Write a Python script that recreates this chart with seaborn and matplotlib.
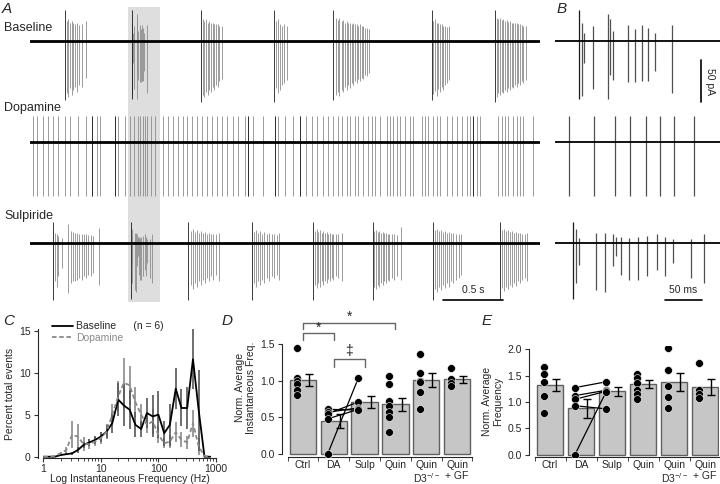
import numpy as np
import pandas as pd
import seaborn as sns
import matplotlib
matplotlib.use("Agg")
import matplotlib.pyplot as plt
from matplotlib.lines import Line2D
from matplotlib.ticker import FixedLocator, NullFormatter, LogLocator

sns.set_style("ticks")
plt.rcParams['font.family'] = ['Liberation Sans', 'DejaVu Sans']
plt.rcParams['mathtext.default'] = 'regular'
plt.rcParams['font.size'] = 7

# ---------------- A / B : spike traces (time in s, amplitudes in pA) ----------------
base_onsets = [0.542, 1.100, 1.675, 2.283, 2.778, 3.597, 4.125]
base_offsets = [
    [0, 14, 28, 42, 56, 69, 83, 97, 117, 139, 175],
    [0, 3, 6, 19, 38, 42, 46, 65, 75, 85, 93, 102, 125],
    [0, 14, 28, 42, 56, 69, 83, 97, 111, 125, 139, 153, 172],
    [0, 17, 33, 50, 67, 83, 111],
    [0, 22, 37, 50, 70, 83, 97, 112, 125, 139, 153, 167, 181, 195, 208, 222, 237, 250, 264, 278, 300],
    [0, 13, 28, 42, 55, 69, 83, 97, 111, 125, 144],
    [0, 14, 28, 42, 56, 69, 83, 97, 111, 125, 139, 153, 167, 181, 194, 208, 222, 236, 256],
]
base_up = [
    [37, 24, 26, 22, 24, 21, 20, 22, 19, 20, 24],
    [37, 22, 10, 18, 32, 26, 12, 19, 14, 19, 16, 10, 19],
    [37, 26, 24, 26, 22, 24, 22, 22, 20, 20, 20, 18, 18],
    [37, 24, 26, 20, 18, 20, 18],
    [37, 28, 25, 27, 24, 25, 22, 24, 22, 22, 20, 22, 20, 20, 18, 20, 18, 18, 16, 16, 15],
    [37, 24, 26, 22, 22, 20, 20, 18, 18, 17, 18],
    [37, 28, 26, 27, 25, 26, 24, 25, 23, 24, 22, 22, 21, 21, 20, 20, 19, 18, 18],
]
base_down = [
    [70, 62, 66, 56, 64, 58, 55, 60, 52, 54, 44],
    [69, 65, 26, 57, 69, 40, 46, 49, 49, 47, 47, 36, 62],
    [72, 64, 66, 60, 64, 58, 60, 55, 58, 52, 55, 48, 45],
    [72, 56, 62, 58, 52, 50, 46],
    [70, 64, 60, 65, 58, 60, 55, 58, 52, 56, 50, 52, 48, 50, 45, 48, 44, 45, 40, 42, 38],
    [70, 63, 59, 65, 57, 61, 54, 58, 52, 50, 46],
    [72, 66, 62, 64, 60, 62, 58, 60, 56, 58, 54, 56, 52, 54, 50, 52, 48, 50, 46],
]

da_times = [0.275, 0.308, 0.358, 0.400, 0.442, 0.483, 0.542, 0.583, 0.650, 0.717,
            0.767, 0.808, 0.833, 0.958, 0.983, 1.042, 1.086, 1.120, 1.148, 1.169,
            1.190, 1.209, 1.228, 1.255, 1.292, 1.358, 1.400, 1.442, 1.483, 1.525,
            1.558, 1.600, 1.642, 1.683, 1.725, 1.767, 1.808, 1.850, 1.892, 1.942,
            1.983, 2.042, 2.067, 2.108, 2.192, 2.292, 2.317, 2.375, 2.442, 2.500,
            2.550, 2.600, 2.642, 2.692, 2.733, 2.775, 2.817, 2.850, 2.892, 2.917,
            2.958, 2.983, 3.025, 3.067, 3.100, 3.125, 3.167, 3.225, 3.250, 3.275,
            3.308, 3.333, 3.375, 3.417, 3.442, 3.517, 3.542, 3.567, 3.608, 3.642,
            3.667, 3.725, 3.767, 3.808, 3.850, 3.892, 3.917, 3.942, 3.975, 4.000,
            4.150, 4.183, 4.208, 4.233, 4.275, 4.308, 4.333, 4.358, 4.442]
da_dark = [0.767, 0.958, 2.067, 2.292, 2.500, 3.942]
da_up = 31
da_down = 64

sulp_onsets = [0.444, 1.092, 1.569, 2.103, 2.606, 3.106, 3.611, 4.167]
sulp_offsets = [
    [0, 14, 28, 42, 70, 125, 145, 162, 181, 200, 217, 237, 256, 272, 292, 312, 333, 383],
    [0, 4, 8, 30, 42, 53, 58, 64, 75, 87, 99, 113, 123, 134, 159, 176],
    [0, 20, 37, 53, 70, 87, 103, 120, 137, 153, 170, 187, 208, 231, 258],
    [0, 17, 33, 50, 67, 83, 100, 120, 139, 162, 181, 203, 225],
    [0, 19, 33, 47, 61, 75, 89, 103, 117, 130, 144, 158, 172, 192, 214, 242],
    [0, 13, 28, 42, 55, 69, 83, 97, 111, 125, 139, 158, 178, 200, 233],
    [0, 17, 33, 50, 67, 83, 100, 117, 133, 150, 167, 189, 211, 233],
    [0, 17, 33, 50, 67, 83, 100, 117, 133, 150, 167, 183, 206, 228],
]
sulp_up = [
    [25, 12, 10, 8, 6, 22, 14, 13, 12, 12, 11, 11, 10, 10, 9, 9, 8, 18],
    [25, 16, 6, 12, 12, 10, 7, 7, 6, 7, 8, 10, 7, 5, 5, 10],
    [25, 14, 16, 13, 15, 12, 14, 12, 13, 11, 12, 10, 11, 10, 12],
    [25, 13, 15, 12, 14, 11, 13, 10, 12, 10, 11, 9, 12],
    [25, 14, 16, 13, 15, 12, 14, 12, 13, 11, 12, 10, 11, 10, 10, 12],
    [25, 14, 15, 13, 14, 12, 13, 12, 12, 11, 11, 10, 10, 9, 19],
    [25, 15, 16, 14, 15, 13, 14, 12, 13, 12, 12, 11, 10, 10],
    [25, 15, 16, 14, 15, 13, 14, 12, 13, 12, 12, 11, 10, 12],
]
sulp_down = [
    [68, 45, 52, 40, 30, 60, 48, 46, 45, 44, 42, 44, 40, 42, 38, 40, 36, 50],
    [67, 48, 26, 56, 58, 28, 16, 38, 44, 44, 40, 32, 40, 24, 42, 48],
    [68, 50, 55, 48, 52, 46, 50, 44, 48, 42, 46, 40, 44, 38, 45],
    [68, 48, 52, 46, 50, 44, 48, 42, 46, 40, 42, 38, 44],
    [68, 50, 54, 48, 52, 46, 50, 45, 48, 43, 46, 42, 44, 40, 42, 46],
    [68, 52, 55, 50, 53, 48, 50, 46, 48, 44, 46, 42, 44, 40, 44],
    [68, 55, 58, 52, 56, 50, 54, 48, 52, 46, 48, 44, 42, 38],
    [68, 54, 57, 52, 55, 50, 53, 48, 51, 46, 48, 44, 42, 46],
]

trace_names = ["Baseline", "Dopamine", "Sulpiride"]
trace_offsets = [0, -120, -240]
t_start, t_end = 0.25, 4.5
win_start, win_end = 1.067, 1.290      # window expanded in B
shade = (1.067, 1.333)

# ---------------- C : instantaneous frequency histogram ----------------
freqs = [1, 1.26, 1.58, 2, 2.51, 3.16, 3.98, 5.01, 6.31, 7.94,
         10, 12.6, 15.8, 20, 25.1, 31.6, 39.8, 50.1, 63.1, 79.4,
         100, 126, 158, 200, 251, 316, 398, 501, 631, 794]
base_pct = [0, 0, 0, 0.2, 0.3, 0.4, 0.8, 1.4, 1.7, 2.0,
            2.4, 3.0, 4.0, 6.8, 6.1, 5.6, 3.8, 3.3, 5.2, 4.8,
            5.0, 2.8, 3.8, 8.1, 5.8, 5.8, 11.6, 5.5, 0, 0]
base_sem = [0, 0, 0, 0.1, 0.1, 0.2, 0.3, 0.4, 0.4, 0.5,
            0.6, 0.8, 1.2, 2.0, 2.5, 2.3, 1.5, 0.9, 1.8, 2.5,
            2.8, 1.5, 2.5, 2.4, 2.2, 2.5, 3.6, 4.8, 0, 0]
da_pct = [0, 0, 0.1, 0.4, 0.8, 2.6, 2.4, 1.5, 1.5, 1.8,
          2.2, 3.0, 5.0, 7.2, 8.8, 8.5, 6.5, 5.0, 3.8, 4.2,
          2.6, 1.6, 1.8, 2.9, 2.0, 1.7, 4.0, 1.2, 0.1, 0]
da_sem = [0, 0, 0, 0.2, 0.4, 1.6, 1.5, 0.8, 0.6, 0.5,
          0.7, 0.9, 1.3, 1.8, 3.0, 2.3, 1.8, 1.3, 1.0, 1.5,
          1.0, 0.6, 0.8, 1.2, 0.9, 0.8, 1.6, 1.0, 0, 0]

# ---------------- D / E : normalised bar charts ----------------
groups = ["Ctrl", "DA", "Sulp", "Quin", "Quin\nD3$^{-/-}$", "Quin\n+ GF"]
d_mean = [1.01, 0.45, 0.71, 0.68, 1.01, 1.02]
d_sem = [0.08, 0.09, 0.08, 0.09, 0.10, 0.05]
d_pts = [[1.45, 1.04, 1.00, 0.95, 0.87, 0.80],
         [0.61, 0.57, 0.55, 0.48, 0.00],
         [1.04, 0.71, 0.63, 0.61, 0.60],
         [1.07, 0.95, 0.73, 0.65, 0.58, 0.50, 0.30],
         [1.36, 1.10, 1.00, 0.98, 0.85, 0.61],
         [1.17, 1.03, 0.97, 0.93]]
d_pair_da = [0.61, 0.57, 0.55, 0.48, 0.00]
d_pair_sulp = [0.60, 0.63, 0.71, 0.61, 1.04]

e_mean = [1.32, 0.88, 1.20, 1.34, 1.37, 1.29]
e_sem = [0.12, 0.18, 0.09, 0.07, 0.17, 0.15]
e_pts = [[1.67, 1.52, 1.37, 1.12, 0.80],
         [1.27, 1.12, 1.05, 0.93, 0.00],
         [1.38, 1.22, 1.20, 1.18, 0.87],
         [1.52, 1.45, 1.35, 1.22, 1.15, 1.05],
         [2.02, 1.60, 1.30, 1.10, 0.88],
         [1.74, 1.22, 1.15, 1.08]]
e_pair_da = [1.27, 1.12, 1.05, 0.93, 0.00]
e_pair_sulp = [1.38, 1.22, 1.20, 0.87, 1.18]

# ---------------- figure ----------------
W, H = 720, 484
fig = plt.figure(figsize=(7.2, 4.84), dpi=100)


def fx(px):
    return px / W


def fy(py):
    return 1 - py / H


def draw_bursts(ax, y0, onsets, offsets, ups, downs, lw, col):
    for t0, offs, up, dn in zip(onsets, offsets, ups, downs):
        t = t0 + np.array(offs) / 1000.0
        up = np.array(up)
        dn = np.array(dn)
        ax.vlines(t[1:], y0 - dn[1:], y0 + up[1:], color=col, lw=lw, zorder=2)
        ax.vlines(t[:1], y0 - dn[:1], y0 + up[:1], color='#1a1a1a', lw=lw, zorder=3)


def draw_traces(ax, spike_lw, base_lw, col):
    y_b, y_d, y_s = trace_offsets
    draw_bursts(ax, y_b, base_onsets, base_offsets, base_up, base_down, spike_lw, col)
    draw_bursts(ax, y_s, sulp_onsets, sulp_offsets, sulp_up, sulp_down, spike_lw, col)
    ax.vlines(da_times, y_d - da_down, y_d + da_up, color=col, lw=spike_lw, zorder=2)
    ax.vlines(da_dark, y_d - da_down, y_d + da_up, color='#1a1a1a', lw=spike_lw, zorder=3)
    for y0 in trace_offsets:
        ax.axhline(y0, color='black', lw=base_lw, zorder=4)


# A
axA = fig.add_axes([fx(30), fy(305), fx(510), 300 / H])
axA.axvspan(shade[0], shade[1], ymin=0.01, ymax=0.993, color='#dedede', lw=0, zorder=0)
draw_traces(axA, 0.6, 2.0, '#8c8c8c')
axA.set_xlim(t_start, t_end)
axA.set_ylim(-314, 43)
axA.plot([3.692, 4.192], [-308, -308], color='black', lw=1.2, clip_on=False)
axA.text(3.942, -302, "0.5 s", ha='center', va='bottom', fontsize=7.5)
axA.axis('off')

# B
axB = fig.add_axes([fx(555), fy(305), fx(165), 300 / H])
draw_traces(axB, 0.9, 1.3, '#505050')
axB.set_xlim(win_start, win_end)
axB.set_ylim(-314, 43)
axB.plot([1.264, 1.264], [-22.5, -72.5], color='black', lw=1.2, clip_on=False)
axB.text(1.277, -47.5, "50 pA", rotation=270, ha='center', va='center', fontsize=7.5)
axB.plot([1.2156, 1.2656], [-308, -308], color='black', lw=1.2, clip_on=False)
axB.text(1.2406, -302, "50 ms", ha='center', va='bottom', fontsize=7.5)
axB.axis('off')

for name, py in zip(trace_names, [28, 108, 216]):
    fig.text(fx(4), fy(py), name, fontsize=9, va='center', ha='left')

# C
axC = fig.add_axes([fx(43.3), fy(458.4), fx(172.7), 129.4 / H])
dfc = pd.DataFrame({'freq': freqs * 2,
                    'pct': base_pct + da_pct,
                    'cond': ['Baseline'] * len(freqs) + ['Dopamine'] * len(freqs)})
axC.errorbar(freqs, da_pct, yerr=da_sem, fmt='none', ecolor='#8a8a8a', elinewidth=1.2, zorder=2)
axC.errorbar(freqs, base_pct, yerr=base_sem, fmt='none', ecolor='#555555', elinewidth=1.2, zorder=2)
sns.lineplot(data=dfc, x='freq', y='pct', hue='cond', style='cond',
             palette={'Baseline': 'black', 'Dopamine': '#8a8a8a'},
             dashes={'Baseline': '', 'Dopamine': (2.5, 1.5)},
             linewidth=1.3, legend=False, ax=axC, zorder=3)
axC.set_xscale('log')
axC.set_xlim(1, 1000)
axC.set_ylim(-0.2, 15.2)
axC.xaxis.set_major_locator(FixedLocator([1, 10, 100, 1000]))
axC.set_xticklabels(['1', '10', '100', '1000'])
axC.xaxis.set_minor_locator(LogLocator(base=10, subs=np.arange(2, 10)))
axC.xaxis.set_minor_formatter(NullFormatter())
axC.set_yticks([0, 5, 10, 15])
axC.set_xlabel("Log Instantaneous Frequency (Hz)", fontsize=7.5, labelpad=0)
axC.set_ylabel("Percent total events", fontsize=7.5, labelpad=3)
handles = [Line2D([], [], color='black', lw=1.3),
           Line2D([], [], color='#8a8a8a', lw=1.3, dashes=(2.5, 1.5))]
leg = axC.legend(handles, ["Baseline      (n = 6)", "Dopamine"], loc='upper left',
                 bbox_to_anchor=(0.02, 1.1), frameon=False, fontsize=7.5,
                 handlelength=2.0, handletextpad=0.3, labelspacing=0.15, borderpad=0)
leg.get_texts()[1].set_color('#8a8a8a')


def bar_panel(ax, means, sems, pts, pair_da, pair_sulp, ytop, yticks):
    pos = np.arange(len(groups))
    sns.barplot(x=list(pos), y=means, color='#c6c6c6', saturation=1, edgecolor='#606060',
                linewidth=1.0, width=0.86, errorbar=None, ax=ax, zorder=1)
    ax.errorbar(pos + 0.2, means, yerr=sems, fmt='none', ecolor='black',
                elinewidth=1.0, capsize=3, capthick=1.0, zorder=3)
    for a, b in zip(pair_da, pair_sulp):
        ax.plot([1 - 0.2, 2 - 0.2], [a, b], color='black', lw=0.9, zorder=4)
    for i, p in enumerate(pts):
        ax.scatter(np.full(len(p), i - 0.2), p, s=32, color='black',
                   edgecolors='white', linewidths=0.4, zorder=5)
    ax.set_xlim(-0.5, 5.5)
    ax.set_ylim(-0.04, ytop)
    ax.set_yticks(yticks)
    ax.set_yticklabels([f"{v:.1f}" for v in yticks])
    ax.spines['left'].set_bounds(0, yticks[-1])
    ax.spines['left'].set_position(('outward', 4))
    ax.spines['right'].set_visible(False)
    ax.spines['top'].set_visible(False)
    ax.set_xticks(pos)
    ax.set_xticklabels(groups, fontsize=7.5, linespacing=1.1)
    ax.tick_params(axis='x', which='major', length=0, pad=2)
    ax.set_xticks(np.arange(-0.5, 6, 1.0), minor=True)
    ax.tick_params(axis='x', which='minor', length=3)
    ax.set_xlabel("")


# D
axD = fig.add_axes([fx(287.6), fy(457), fx(184.8), 138.6 / H])
bar_panel(axD, d_mean, d_sem, d_pts, d_pair_da, d_pair_sulp, 1.85, [0.0, 0.5, 1.0, 1.5])
axD.set_ylabel("Norm. Average\nInstantaneous Freq.", fontsize=7.5, labelpad=3)


def bracket(ax, x1, x2, y, drop, label, ty):
    ax.plot([x1, x1, x2, x2], [y - drop, y, y, y - drop], color='#666666', lw=1.0, clip_on=False)
    ax.text((x1 + x2) / 2, ty, label, ha='center', va='center', fontsize=10)


bracket(axD, 0, 1, 1.65, 0.09, "*", 1.72)
bracket(axD, 0, 3, 1.79, 0.09, "*", 1.87)
bracket(axD, 1, 2, 1.30, 0.11, "\u2021", 1.41)

# E
axE = fig.add_axes([fx(534.5), fy(457), fx(184.5), 110.6 / H])
bar_panel(axE, e_mean, e_sem, e_pts, e_pair_da, e_pair_sulp, 2.05, [0.0, 0.5, 1.0, 1.5, 2.0])
axE.set_xlim(-0.5, 5.45)
axE.set_ylabel("Norm. Average\nFrequency", fontsize=7.5, labelpad=3)

for ax in (axC, axD, axE):
    ax.tick_params(axis='both', labelsize=7.5, width=0.8, color='#333333')
    ax.tick_params(axis='y', length=3, pad=2)
    for s in ax.spines.values():
        s.set_linewidth(0.8)
sns.despine(ax=axC, offset={'left': 4, 'bottom': 0})
axC.tick_params(axis='x', which='major', length=3, pad=1)
axC.tick_params(axis='x', which='minor', length=2)

for letter, px, py in [("A", 2, 9), ("B", 557, 9), ("C", 3, 321), ("D", 222, 321), ("E", 482, 321)]:
    fig.text(fx(px), fy(py), letter, fontsize=11, style='italic', va='center', ha='left')

fig.savefig("out.png", dpi=100)
